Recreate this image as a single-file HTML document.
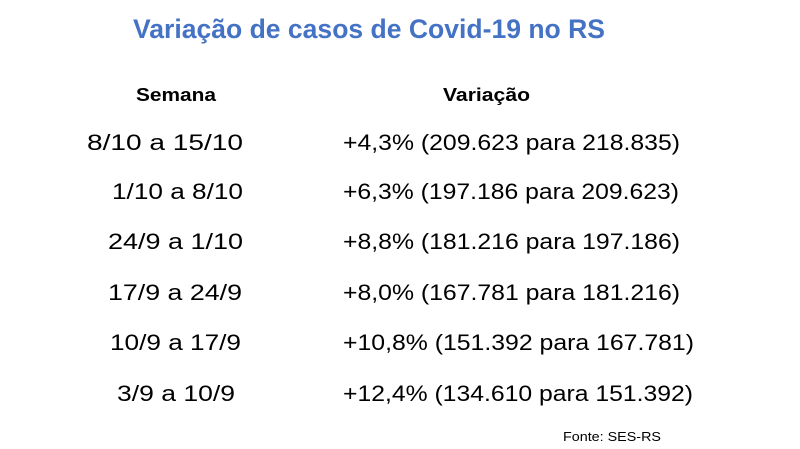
<!DOCTYPE html>
<html><head><meta charset="utf-8"><style>
html,body{margin:0;padding:0;background:#fff;}
svg{display:block;}
text{font-family:"Liberation Sans",sans-serif;fill:#000;}
</style></head><body>
<svg width="800" height="449" viewBox="0 0 800 449">
<text x="133" y="38" font-size="27" font-weight="bold" style="fill:#4472C4" textLength="472" lengthAdjust="spacingAndGlyphs">Variação de casos de Covid-19 no RS</text>
<text x="136" y="101" font-size="18" font-weight="bold" textLength="80" lengthAdjust="spacingAndGlyphs">Semana</text>
<text x="443" y="101" font-size="18" font-weight="bold" textLength="87" lengthAdjust="spacingAndGlyphs">Variação</text>
<g font-size="22">
<text x="87" y="150" textLength="156" lengthAdjust="spacingAndGlyphs">8/10 a 15/10</text>
<text x="343" y="150" textLength="337" lengthAdjust="spacingAndGlyphs">+4,3% (209.623 para 218.835)</text>
<text x="112" y="199" textLength="131" lengthAdjust="spacingAndGlyphs">1/10 a 8/10</text>
<text x="343" y="199" textLength="336" lengthAdjust="spacingAndGlyphs">+6,3% (197.186 para 209.623)</text>
<text x="108" y="249" textLength="135" lengthAdjust="spacingAndGlyphs">24/9 a 1/10</text>
<text x="343" y="249" textLength="337" lengthAdjust="spacingAndGlyphs">+8,8% (181.216 para 197.186)</text>
<text x="108" y="300" textLength="134" lengthAdjust="spacingAndGlyphs">17/9 a 24/9</text>
<text x="343" y="300" textLength="337" lengthAdjust="spacingAndGlyphs">+8,0% (167.781 para 181.216)</text>
<text x="110" y="350" textLength="131" lengthAdjust="spacingAndGlyphs">10/9 a 17/9</text>
<text x="343" y="350" textLength="351" lengthAdjust="spacingAndGlyphs">+10,8% (151.392 para 167.781)</text>
<text x="117" y="401" textLength="118" lengthAdjust="spacingAndGlyphs">3/9 a 10/9</text>
<text x="343" y="401" textLength="350" lengthAdjust="spacingAndGlyphs">+12,4% (134.610 para 151.392)</text>
</g>
<text x="563" y="441" font-size="13" textLength="98" lengthAdjust="spacingAndGlyphs">Fonte: SES-RS</text>
</svg>
</body></html>
